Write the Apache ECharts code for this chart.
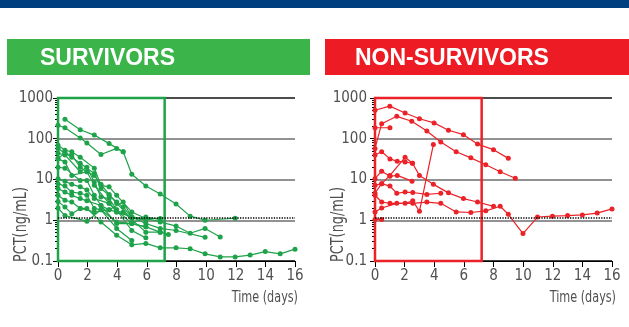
<!DOCTYPE html>
<html><head><meta charset="utf-8">
<script src="https://cdn.jsdelivr.net/npm/echarts@6/dist/echarts.min.js"></script>
<style>html,body{margin:0;padding:0;background:#fff}#c{width:629px;height:327px}</style>
</head><body><div id="c"></div>
<script>
// ---- data (day, PCT ng/mL) ----
const panelTitles = ['SURVIVORS', 'NON-SURVIVORS'];
const xTicks = [0, 2, 4, 6, 8, 10, 12, 14, 16];
const yTicks = [0.1, 1, 10, 100, 1000];
const thresholdPCT = 1.15;
const boxEndDay = 7.2;

// survivors
const s1 = [[0.47,302],[1.5,166],[2.45,123],[3.45,76],[4.4,48],[4.98,13.5],[5.93,6.9],[6.9,4.4],[7.97,2.5],[8.92,1.26],[9.93,1.0],[11.96,1.12]];
const s2 = [[0,214],[0.47,186],[1.5,105],[1.95,79],[2.9,41],[3.96,58],[4.4,48]];
const s3 = [[0,69],[0.47,52],[0.93,48],[1.5,35],[2.45,19],[2.9,7.2],[3.45,6.6],[3.96,4.1],[4.98,1.6],[5.93,1.1],[6.9,0.91],[7.97,0.72],[8.92,0.48],[9.93,0.63],[10.95,0.39]];
const s4 = [[0,58],[0.47,44],[0.93,35],[1.5,25],[2.45,14],[2.9,6.0],[3.45,4.1],[3.96,2.8],[4.4,2.1],[4.98,1.2],[5.93,0.83],[6.9,0.63],[7.97,0.56],[9.93,0.38]];
const s5 = [[0,44],[0.47,40],[1.5,15.5],[1.95,20],[2.45,8.7],[2.9,3.7],[3.45,3.4],[3.96,1.8],[4.98,0.83],[5.93,1.2],[6.9,1.05]];
const s6 = [[0,32],[0.47,27],[0.93,12.6],[1.95,15.5],[2.45,7.2],[3.45,2.6],[3.96,1.6],[4.4,1.6],[5.93,0.51],[6.9,0.51],[7.45,0.45]];
const s7 = [[0,20],[0.47,19],[1.5,9.5],[1.95,9.5],[2.45,4.1],[2.9,2.3],[3.96,0.83],[4.98,0.83],[5.93,0.69]];
const s8 = [[0,10.5],[0.47,9.1],[0.93,7.6],[1.5,6.6],[1.95,5.5],[2.45,3.4],[3.45,2.6],[3.96,1.8],[4.98,0.56],[5.93,0.37]];
const s9 = [[0,7.9],[0.47,6.9],[0.93,4.9],[1.5,4.6],[1.95,4.1],[2.45,1.95],[2.9,1.8],[3.96,0.63],[4.98,0.32]];
const s10 = [[0,6.0],[0.47,4.9],[0.93,4.1],[1.5,3.4],[1.95,3.0],[2.9,2.3],[3.45,1.8],[4.4,2.8],[4.98,1.2],[5.93,1.1]];
const s11 = [[0,2.0],[0.47,1.3],[1.95,0.95],[2.9,1.8],[3.96,0.91],[4.98,0.83],[5.93,0.69],[6.9,0.51]];
const s12 = [[0,4.1],[0.47,3.1],[0.93,2.8],[1.5,1.95],[1.95,1.95],[2.9,0.91],[3.96,0.43],[4.98,0.25],[5.93,0.27],[6.9,0.21],[7.97,0.21],[8.92,0.2],[9.93,0.15],[10.95,0.126],[11.96,0.126],[12.97,0.14],[13.99,0.17],[15,0.15],[16,0.195]];
const s13 = [[0,2.9],[0.47,2.1],[0.93,1.45],[1.5,1.95],[2.45,1.6],[3.45,1.8],[3.96,1.6],[4.98,1.2],[5.93,1.0]];
const s14 = [[0,33],[0.47,44],[0.93,40],[1.5,20],[1.95,15.5],[2.45,12.6],[2.9,7.6],[3.45,4.3],[3.96,2.6],[4.98,1.1],[5.93,1.1],[6.9,1.1]];

// non-survivors
const n1 = [[0,501],[1.0,631],[2.03,427],[3.0,309],[3.99,245],[4.96,162],[5.97,126],[6.92,74],[8.0,54],[9.0,33]];
const n2 = [[0,58],[0.45,234],[1.47,355],[2.48,269],[3.5,155],[4.44,83],[5.48,48],[6.47,34],[7.48,23],[8.45,15.5],[9.47,10.7]];
const n3 = [[0,186],[1.01,186]];
const n4 = [[0,40],[0.45,48],[1.01,32],[1.5,28],[2.03,27],[2.53,25],[3.0,12.6],[3.94,7.6],[4.96,4.7],[5.97,3.4],[6.92,2.8],[8.0,2.2]];
const n5 = [[0,4.6],[0.45,7.9],[1.01,12.6],[2.03,35],[2.53,25]];
const n6 = [[0,10.5],[0.45,16],[1.01,12],[1.5,12.6],[2.5,9.1]];
const n7 = [[0,7.2],[0.45,7.9],[1.01,6.9],[1.47,4.6],[2.03,4.9],[2.55,4.8],[3.5,4.3],[4.44,4.6]];
const n8 = [[0,4.1],[0.45,2.8],[1.01,2.6],[2.03,2.6],[2.55,3.0],[3.0,1.66],[3.94,72]];
const n9 = [[0,1.6],[0.45,2.0],[1.47,2.6],[2.55,2.6],[3.5,2.8],[4.44,2.6],[5.48,1.6],[6.47,1.55],[7.48,1.7],[8.45,2.2],[9.0,1.4],[9.99,0.47],[10.97,1.2],[11.98,1.26],[13.0,1.3],[14.0,1.35],[15.0,1.5],[16.0,1.9]];
const n10 = [[0,1.05],[0.45,1.05]];

const survivorLines = [s1,s2,s3,s4,s5,s6,s7,s8,s9,s10,s11,s12,s13,s14];
const nonSurvivorLines = [n1,n2,n3,n4,n5,n6,n7,n8,n9,n10];

// ---- styling ----
const GREEN_HEAD = '#3bb54a', GREEN_LINE = '#1ea24a';
const RED_HEAD = '#ed1c24', RED_LINE = '#ec2229';
const FONT = '"DejaVu Sans Condensed", "Liberation Sans", sans-serif';
const TXT = '#505050';

function xAx(i) {
  return {
    type: 'value', gridIndex: i, min: xTicks[0], max: xTicks[xTicks.length-1], interval: xTicks[1]-xTicks[0],
    axisLine: {show: true, lineStyle: {color: '#000', width: 1}},
    axisTick: {show: true, length: 6, lineStyle: {color: '#000', width: 1}},
    axisLabel: {margin: 8, fontFamily: FONT, fontSize: 15, color: TXT},
    splitLine: {show: false}
  };
}
function yAx(i, margin) {
  return {
    type: 'log', logBase: 10, gridIndex: i, min: yTicks[0], max: yTicks[yTicks.length-1],
    axisLine: {show: true, lineStyle: {color: '#000', width: 1}},
    axisTick: {show: true, length: 5, lineStyle: {color: '#000', width: 1}},
    minorTick: {show: true, splitNumber: 9, length: 3, lineStyle: {color: '#000', width: 1}},
    minorSplitLine: {show: false},
    axisLabel: {margin: margin, fontFamily: FONT, fontSize: 15, color: TXT,
      formatter: v => String(+(+v).toPrecision(3))},
    splitLine: {show: true, lineStyle: {color: ['#000', '#6e6e6e', '#6e6e6e', '#6e6e6e', '#111'], width: 1.5}}
  };
}

const series = [];
function addLines(lines, gi, color) {
  lines.forEach((d, k) => {
    const s = {
      type: 'line', xAxisIndex: gi, yAxisIndex: gi, data: d,
      symbol: 'circle', symbolSize: 5, showSymbol: true,
      lineStyle: {width: 1.2, color: color}, itemStyle: {color: color},
      animation: false, silent: true, z: 3
    };
    if (k === 0) {
      s.markArea = {silent: true, z: 4,
        itemStyle: {color: 'rgba(0,0,0,0)', borderColor: color, borderWidth: 2.5},
        data: [[{coord: [0, yTicks[0]]}, {coord: [boxEndDay, yTicks[yTicks.length-1]]}]]};
      s.markLine = {silent: true, symbol: 'none', label: {show: false}, animation: false,
        lineStyle: {type: [1.3, 1.3], color: '#000', width: 1.5},
        data: [{yAxis: thresholdPCT}]};
    }
    series.push(s);
  });
}
addLines(survivorLines, 0, GREEN_LINE);
addLines(nonSurvivorLines, 1, RED_LINE);

const headFont = 'bold 23px "Liberation Sans", Arial, sans-serif';
const nameFont = '17px ' + FONT;
const timeFont = '16px ' + FONT;
const option = {
  animation: false,
  grid: [
    {left: 58, top: 98, width: 237, height: 163},
    {left: 375, top: 98, width: 237, height: 163}
  ],
  xAxis: [xAx(0), xAx(1)],
  yAxis: [yAx(0, 5), yAx(1, 8)],
  series: series,
  graphic: [
    {type: 'rect', shape: {x: 0, y: 0, width: 629, height: 8}, style: {fill: '#003f7f'}},
    {type: 'rect', shape: {x: 7, y: 39, width: 303, height: 36}, style: {fill: GREEN_HEAD}},
    {type: 'rect', shape: {x: 325, y: 39, width: 304, height: 36}, style: {fill: RED_HEAD}},
    {type: 'text', x: 40, y: 59, style: {text: panelTitles[0], fill: '#fff', font: headFont, verticalAlign: 'middle'}},
    {type: 'text', x: 355, y: 59, style: {text: panelTitles[1], fill: '#fff', font: headFont, verticalAlign: 'middle'}},
    {type: 'text', x: 21.5, y: 224.5, rotation: Math.PI/2, scaleX: 0.84, style: {text: 'PCT(ng/mL)', fill: TXT, font: nameFont, align: 'center', verticalAlign: 'middle'}},
    {type: 'text', x: 339, y: 224.5, rotation: Math.PI/2, scaleX: 0.84, style: {text: 'PCT(ng/mL)', fill: TXT, font: nameFont, align: 'center', verticalAlign: 'middle'}},
    {type: 'text', x: 298, y: 298, scaleX: 0.78, style: {text: 'Time (days)', fill: TXT, font: timeFont, align: 'right', verticalAlign: 'middle'}},
    {type: 'text', x: 616, y: 298, scaleX: 0.78, style: {text: 'Time (days)', fill: TXT, font: timeFont, align: 'right', verticalAlign: 'middle'}}
  ]
};
const chart = echarts.init(document.getElementById('c'), null, {renderer: 'canvas'});
chart.setOption(option);
</script>
</body></html>
